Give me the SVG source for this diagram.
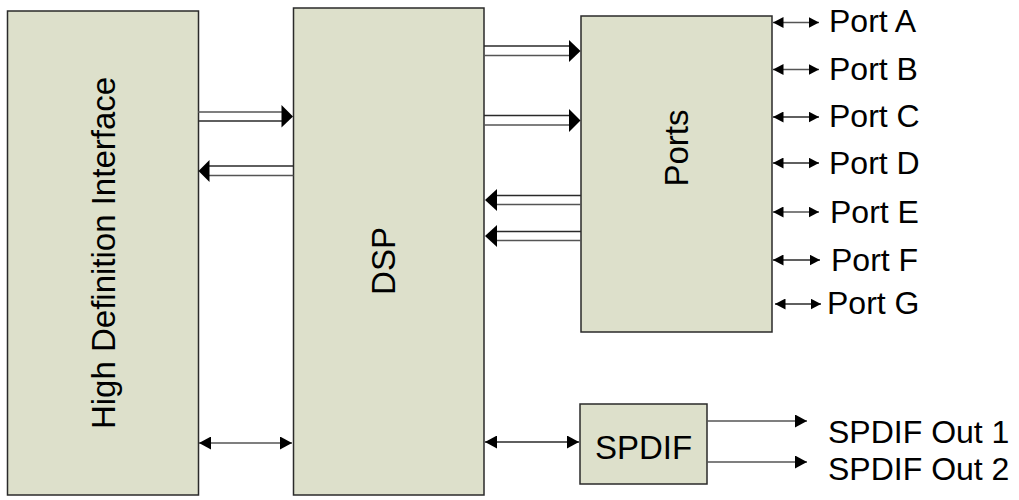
<svg xmlns="http://www.w3.org/2000/svg" width="1019" height="500" viewBox="0 0 1019 500">
<defs>
<style>
.box{fill:#dde0cb;stroke:#2a2a2a;stroke-width:1.5}
.lbl{font-family:"Liberation Sans",Arial,sans-serif;font-size:32px;fill:#000}
.big{font-size:33px}
.ln{stroke:#2a2a2a;stroke-width:1.5;fill:none}
.ln2{stroke:#555;stroke-width:1.5;fill:none}
.hd{fill:#000}
</style>
<marker id="ah" markerUnits="userSpaceOnUse" markerWidth="13" markerHeight="13" refX="12" refY="6.5" orient="auto-start-reverse">
<path d="M0,0 L12,6.5 L0,13 Z" fill="#000"/>
</marker>
<marker id="as" markerUnits="userSpaceOnUse" markerWidth="11" markerHeight="11" refX="10.5" refY="5.5" orient="auto-start-reverse">
<path d="M0,0 L10.5,5.5 L0,11 Z" fill="#000"/>
</marker>
</defs>
<rect width="1019" height="500" fill="#fff"/>
<g id="hdi">
<rect class="box" x="7.5" y="11" width="191" height="484"/>
<text class="lbl big" text-anchor="middle" transform="translate(114.5,253) rotate(-90)">High Definition Interface</text>
</g>
<g id="dsp">
<rect class="box" x="293.5" y="8" width="190.5" height="487"/>
<text class="lbl big" text-anchor="middle" transform="translate(394.5,261) rotate(-90)">DSP</text>
</g>
<g id="ports">
<rect class="box" x="581" y="16" width="191" height="316"/>
<text class="lbl big" text-anchor="middle" transform="translate(688,148) rotate(-90)">Ports</text>
</g>
<g id="spdif">
<rect class="box" x="580" y="404" width="127" height="80"/>
<text class="lbl big" x="643.5" y="459" text-anchor="middle">SPDIF</text>
</g>
<g id="labels">
<text class="lbl" x="829" y="32">Port A</text>
<text class="lbl" x="829" y="80">Port B</text>
<text class="lbl" x="829" y="127">Port C</text>
<text class="lbl" x="829" y="174">Port D</text>
<text class="lbl" x="830" y="223">Port E</text>
<text class="lbl" x="831" y="271">Port F</text>
<text class="lbl" x="827" y="314">Port G</text>
<text class="lbl" x="828" y="443">SPDIF Out 1</text>
<text class="lbl" x="828" y="480">SPDIF Out 2</text>
</g>
<g id="connectors">
<path class="ln2" d="M198,112 H282"/>
<path class="ln" d="M198,121 H282"/>
<path class="hd" d="M281.5,105 L293,116.5 L281.5,127.5 Z"/>
<path class="ln" d="M209,166 H293.5"/>
<path class="ln2" d="M209,175.5 H293.5"/>
<path class="hd" d="M209.5,160 L198.5,171 L209.5,182 Z"/>
<path class="ln" d="M484,46 H570"/>
<path class="ln2" d="M484,55.5 H570"/>
<path class="hd" d="M569,40 L580.5,51 L569,62 Z"/>
<path class="ln" d="M484,115.5 H570"/>
<path class="ln2" d="M484,125 H570"/>
<path class="hd" d="M569,109 L580.5,120.5 L569,132 Z"/>
<path class="ln" d="M496,195.5 H581"/>
<path class="ln2" d="M496,204.5 H581"/>
<path class="hd" d="M497,189 L485,200 L497,211 Z"/>
<path class="ln" d="M496,231.5 H581"/>
<path class="ln2" d="M496,240.5 H581"/>
<path class="hd" d="M497,225 L485,236 L497,247 Z"/>
<path class="ln2" d="M199,443 H292" marker-start="url(#ah)" marker-end="url(#ah)"/>
<path class="ln" d="M485,442 H579" marker-start="url(#ah)" marker-end="url(#ah)"/>
<path class="ln2" d="M773,22.5 H819" marker-start="url(#as)" marker-end="url(#as)"/>
<path class="ln2" d="M773,69.5 H819" marker-start="url(#as)" marker-end="url(#as)"/>
<path class="ln" d="M773,117 H819" marker-start="url(#as)" marker-end="url(#as)"/>
<path class="ln" d="M773,163 H819" marker-start="url(#as)" marker-end="url(#as)"/>
<path class="ln2" d="M773,212 H819" marker-start="url(#as)" marker-end="url(#as)"/>
<path class="ln" d="M773,260 H820" marker-start="url(#as)" marker-end="url(#as)"/>
<path class="ln" d="M775,304 H821" marker-start="url(#as)" marker-end="url(#as)"/>
<path class="ln2" d="M707,421 H807" marker-end="url(#ah)"/>
<path class="ln2" d="M707,462 H807" marker-end="url(#ah)"/>
</g>
</svg>
